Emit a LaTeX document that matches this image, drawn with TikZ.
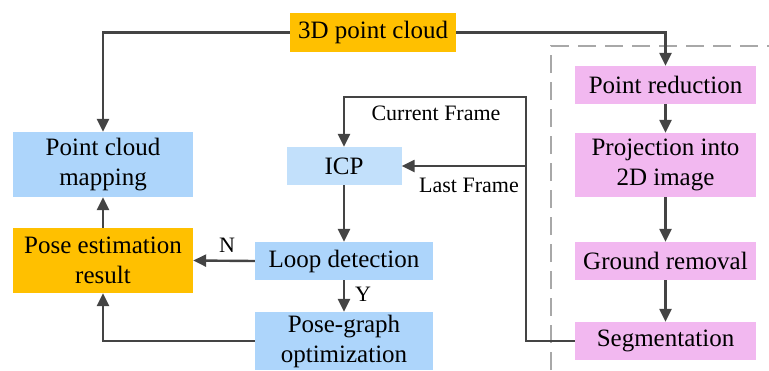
\documentclass[tikz,border=0pt]{standalone}
\usepackage{fontspec}
\setmainfont{Liberation Serif}
\newfontfamily\boxfont{Liberation Serif}
\usetikzlibrary{arrows.meta}
\definecolor{boxorange}{HTML}{FFC000}
\definecolor{boxblue}{HTML}{ADD5FB}
\definecolor{boxicp}{HTML}{C2E0FB}
\definecolor{boxpink}{HTML}{F2B8F0}
\definecolor{linegray}{HTML}{444444}
\definecolor{dashgray}{HTML}{A8A8A8}
\tikzset{
  blk/.style={draw=none, inner sep=0pt, align=center,
    font=\boxfont\fontsize{25}{30}\selectfont},
  lbl/.style={inner sep=0pt, font=\boxfont\fontsize{22}{26}\selectfont},
  arr/.style={draw=linegray, line width=2.4pt,
    -{Triangle[length=13pt,width=12pt]}},
}
\begin{document}
\begin{tikzpicture}[x=1pt, y=-1pt]
\useasboundingbox (0,0) rectangle (769,370);

% dashed frame around the segmentation stage
\draw[dashgray, line width=2pt, dash pattern=on 18pt off 9pt]
  (551,370) -- (551,46) -- (769,46);

% blocks
\node[blk, fill=boxorange, minimum width=166pt, minimum height=39pt] (cloud) at (373,32.5) {3D point cloud};
\node[blk, fill=boxpink, minimum width=181pt, minimum height=38pt] (red) at (665.5,85) {Point reduction};
\node[blk, fill=boxpink, minimum width=181pt, minimum height=64pt] (proj) at (665.5,165) {Projection into\\2D image};
\node[blk, fill=boxpink, minimum width=181pt, minimum height=38pt] (ground) at (665.5,261) {Ground removal};
\node[blk, fill=boxpink, minimum width=181pt, minimum height=38pt] (seg) at (665.5,341) {Segmentation};
\node[blk, fill=boxblue, minimum width=180pt, minimum height=65pt] (map) at (103,164.5) {Point cloud\\mapping};
\node[blk, fill=boxorange, minimum width=180pt, minimum height=65pt] (pose) at (103,260.5) {Pose estimation\\result};
\node[blk, fill=boxicp, minimum width=115pt, minimum height=38pt] (icp) at (344,166) {ICP};
\node[blk, fill=boxblue, minimum width=178pt, minimum height=38pt] (loop) at (344,261) {Loop detection};
\node[blk, fill=boxblue, minimum width=178pt, minimum height=58pt] (pgo) at (344,341) {Pose-graph\\optimization};

% routing points of the frame feedback
\coordinate (fr) at (526,97);
\coordinate (fl) at (344,97);
\coordinate (fm) at (526,166);

% connectors
\draw[arr] (cloud.west) -| (map.north);
\draw[arr] (cloud.east) -| (red.north);
\draw[arr] (red.south) -- (proj.north);
\draw[arr] (proj.south) -- (ground.north);
\draw[arr] (ground.south) -- (seg.north);
\draw[arr] (seg.west) -| (fr) -- (fl) -- (icp.north);
\draw[arr] (fm) -- (icp.east);
\draw[arr] (icp.south) -- (loop.north);
\draw[arr] (loop.south) -- (pgo.north);
\draw[arr] (loop.west) -- (pose.east);
\draw[arr] (pgo.west) -| (pose.south);
\draw[arr] (pose.north) -- (map.south);

% labels
\node[lbl] (lcur) at (436,113) {Current Frame};
\node[lbl] (llast) at (469,185) {Last Frame};
\node[lbl] (ln) at (227,245) {N};
\node[lbl] (ly) at (363,294) {Y};
\end{tikzpicture}
\end{document}
